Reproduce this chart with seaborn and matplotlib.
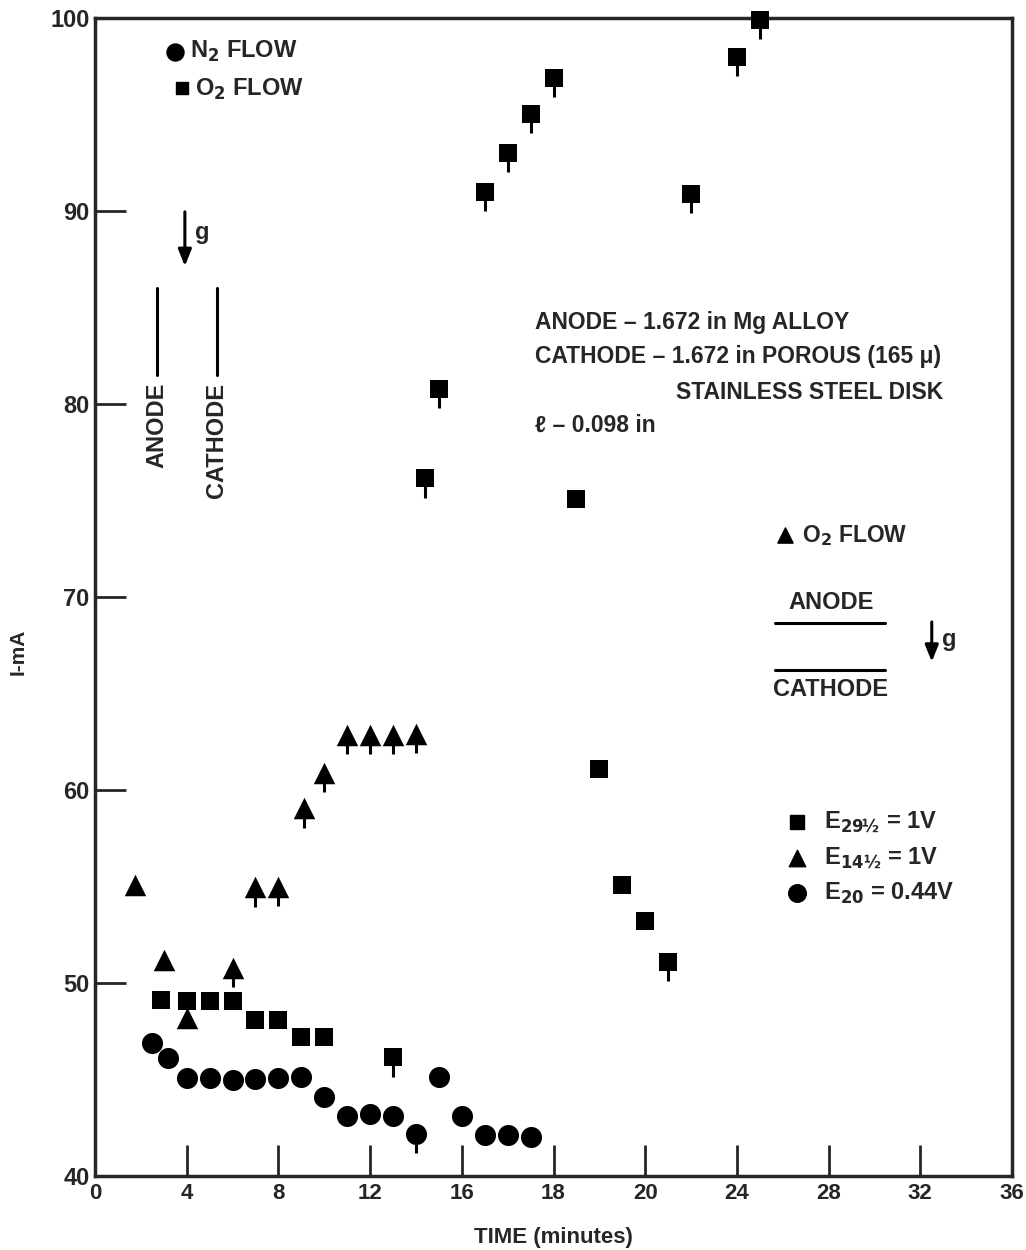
import numpy as np
import pandas as pd
import matplotlib
matplotlib.use("Agg")
import matplotlib.pyplot as plt
import seaborn as sns

# ---------------- data (x in evenly spaced axis units; ticks every 4 units) -------------
x_tick_pos = [0, 4, 8, 12, 16, 20, 24, 28, 32, 36, 40]
x_tick_labels = ['0', '4', '8', '12', '16', '18', '20', '24', '28', '32', '36']
y_ticks = [40, 50, 60, 70, 80, 90, 100]

circ_x = [2.5, 3.2, 4, 5, 6, 7, 8, 9, 10, 11, 12, 13, 14, 15, 16, 17, 18, 19]
circ_y = [46.9, 46.1, 45.1, 45.1, 45.0, 45.05, 45.1, 45.15, 44.1, 43.1, 43.2, 43.1,
          42.2, 45.15, 43.1, 42.15, 42.1, 42.0]
circ_tail = [0, 0, 0, 0, 0, 0, 0, 0, 0, 0, 0, 0, 1, 0, 0, 0, 0, 0]

sq_x = [2.9, 4, 5, 6, 7, 8, 9, 10, 13, 14.4, 15, 17, 18, 19, 20, 21, 22, 23, 24, 25,
        26, 28, 29]
sq_y = [49.1, 49.05, 49.05, 49.05, 48.1, 48.1, 47.2, 47.2, 46.15, 76.15, 80.8, 91.0,
        93.0, 95.05, 96.9, 75.1, 61.1, 55.1, 53.2, 51.1, 90.9, 98.0, 99.9]
sq_tail = [0, 0, 0, 0, 0, 0, 0, 0, 1, 1, 1, 1, 1, 1, 1, 0, 0, 0, 0, 1, 1, 1, 1]

tri_x = [1.75, 3, 4, 6, 7, 8, 9.1, 10, 11, 12, 13, 14]
tri_y = [55.1, 51.2, 48.2, 50.8, 54.95, 55.0, 59.05, 60.9, 62.85, 62.85, 62.85, 62.9]
tri_tail = [0, 0, 0, 1, 1, 1, 1, 1, 1, 1, 1, 1]

# ---------------- style ----------------
sns.set_style("ticks")
plt.rcParams['font.family'] = ['Liberation Sans', 'DejaVu Sans']
plt.rcParams['font.weight'] = 'bold'
plt.rcParams['mathtext.default'] = 'bf'

fig = plt.figure(figsize=(10.26, 12.5), dpi=100)
ax = fig.add_axes([95 / 1026, 1 - 1176 / 1250, 917 / 1026, 1158 / 1250])

TAIL = 1.0

def plot_series(xs, ys, tails, marker, size):
    df = pd.DataFrame({'x': xs, 'y': ys, 'tail': tails})
    t = df[df['tail'] == 1]
    if len(t):
        ax.errorbar(t['x'], t['y'], yerr=[np.full(len(t), TAIL), np.zeros(len(t))],
                    fmt='none', ecolor='black', elinewidth=2.2, capsize=0,
                    zorder=2, clip_on=False)
    sns.scatterplot(data=df, x='x', y='y', marker=marker, s=size, color='black',
                    edgecolor='black', linewidth=0, ax=ax, zorder=3, clip_on=False,
                    legend=False)

plot_series(circ_x, circ_y, circ_tail, 'o', 230)
plot_series(sq_x, sq_y, sq_tail, 's', 180)
plot_series(tri_x, tri_y, tri_tail, '^', 240)

ax.set_xlim(0, 40)
ax.set_ylim(40, 100)
ax.set_xticks(x_tick_pos)
ax.set_xticklabels(x_tick_labels)
ax.set_yticks(y_ticks)
ax.tick_params(axis='x', direction='in', length=22, width=2, labelsize=16, pad=5,
               top=False)
ax.tick_params(axis='y', direction='in', length=22, width=2, labelsize=17, pad=4,
               right=False)
for lab in ax.get_xticklabels() + ax.get_yticklabels():
    lab.set_fontweight('bold')
for sp in ax.spines.values():
    sp.set_linewidth(2.5)
    sp.set_visible(True)

ax.set_xlabel('TIME (minutes)', fontsize=16, fontweight='bold')
ax.xaxis.set_label_coords(0.5, -0.044)
ax.set_ylabel('I-mA', fontsize=15, fontweight='bold')
ax.yaxis.set_label_coords(-0.074, 0.4525)

# ---------------- annotations ----------------
fs = 17
fsb = 16.5
# top-left key
ax.scatter([3.49], [98.25], marker='o', s=150, color='black', clip_on=False)
ax.text(4.15, 98.25, 'N$_2$ FLOW', fontsize=fs, fontweight='bold', va='center')
ax.scatter([3.8], [96.35], marker='s', s=75, color='black', clip_on=False)
ax.text(4.35, 96.3, 'O$_2$ FLOW', fontsize=fs, fontweight='bold', va='center')

# gravity arrow (left)
ax.annotate('', xy=(3.92, 87.0), xytext=(3.92, 90.1),
            arrowprops=dict(arrowstyle='-|>,head_length=1.0,head_width=0.4',
                            color='black', lw=2.2))
ax.text(4.35, 88.9, 'g', fontsize=fs, fontweight='bold', va='center')

# vertical electrode lines
ax.plot([2.70, 2.70], [86.0, 81.5], color='black', lw=2.2)
ax.text(2.70, 81.1, 'ANODE', rotation=90, fontsize=fs, fontweight='bold',
        ha='center', va='top')
ax.plot([5.32, 5.32], [86.0, 81.5], color='black', lw=2.2)
ax.text(5.32, 81.1, 'CATHODE', rotation=90, fontsize=fs, fontweight='bold',
        ha='center', va='top')

# description block
ax.text(19.2, 84.2, 'ANODE \u2013 1.672 in Mg ALLOY', fontsize=fsb, fontweight='bold',
        va='center')
ax.text(19.2, 82.45, 'CATHODE \u2013 1.672 in POROUS (165 \u03bc)', fontsize=fsb,
        fontweight='bold', va='center')
ax.text(25.35, 80.6, 'STAINLESS STEEL DISK', fontsize=fsb, fontweight='bold',
        va='center')
ax.text(19.2, 78.9, '\u2113 \u2013 0.098 in', fontsize=fsb, fontweight='bold',
        va='center')

# right key (triangle O2 flow)
ax.scatter([30.1], [73.2], marker='^', s=120, color='black')
ax.text(30.85, 73.2, 'O$_2$ FLOW', fontsize=fsb, fontweight='bold', va='center')
ax.text(32.1, 69.7, 'ANODE', fontsize=fs, fontweight='bold', ha='center', va='center')
ax.plot([29.65, 34.45], [68.65, 68.65], color='black', lw=2.2)
ax.plot([29.65, 34.45], [66.2, 66.2], color='black', lw=2.2)
ax.text(32.1, 65.2, 'CATHODE', fontsize=fs, fontweight='bold', ha='center',
        va='center')
ax.annotate('', xy=(36.5, 66.5), xytext=(36.5, 68.85),
            arrowprops=dict(arrowstyle='-|>,head_length=1.0,head_width=0.4',
                            color='black', lw=2.2))
ax.text(36.95, 67.8, 'g', fontsize=fs, fontweight='bold', va='center')

# potential key
ax.scatter([30.6], [58.35], marker='s', s=110, color='black')
ax.text(31.8, 58.35, 'E$_{29½}$ = 1V', fontsize=fs, fontweight='bold', va='center')
ax.scatter([30.6], [56.5], marker='^', s=140, color='black')
ax.text(31.8, 56.5, 'E$_{14½}$ = 1V', fontsize=fs, fontweight='bold', va='center')
ax.scatter([30.6], [54.65], marker='o', s=160, color='black')
ax.text(31.8, 54.65, 'E$_{20}$ = 0.44V', fontsize=fs, fontweight='bold', va='center')

fig.savefig('out.png', dpi=100)
